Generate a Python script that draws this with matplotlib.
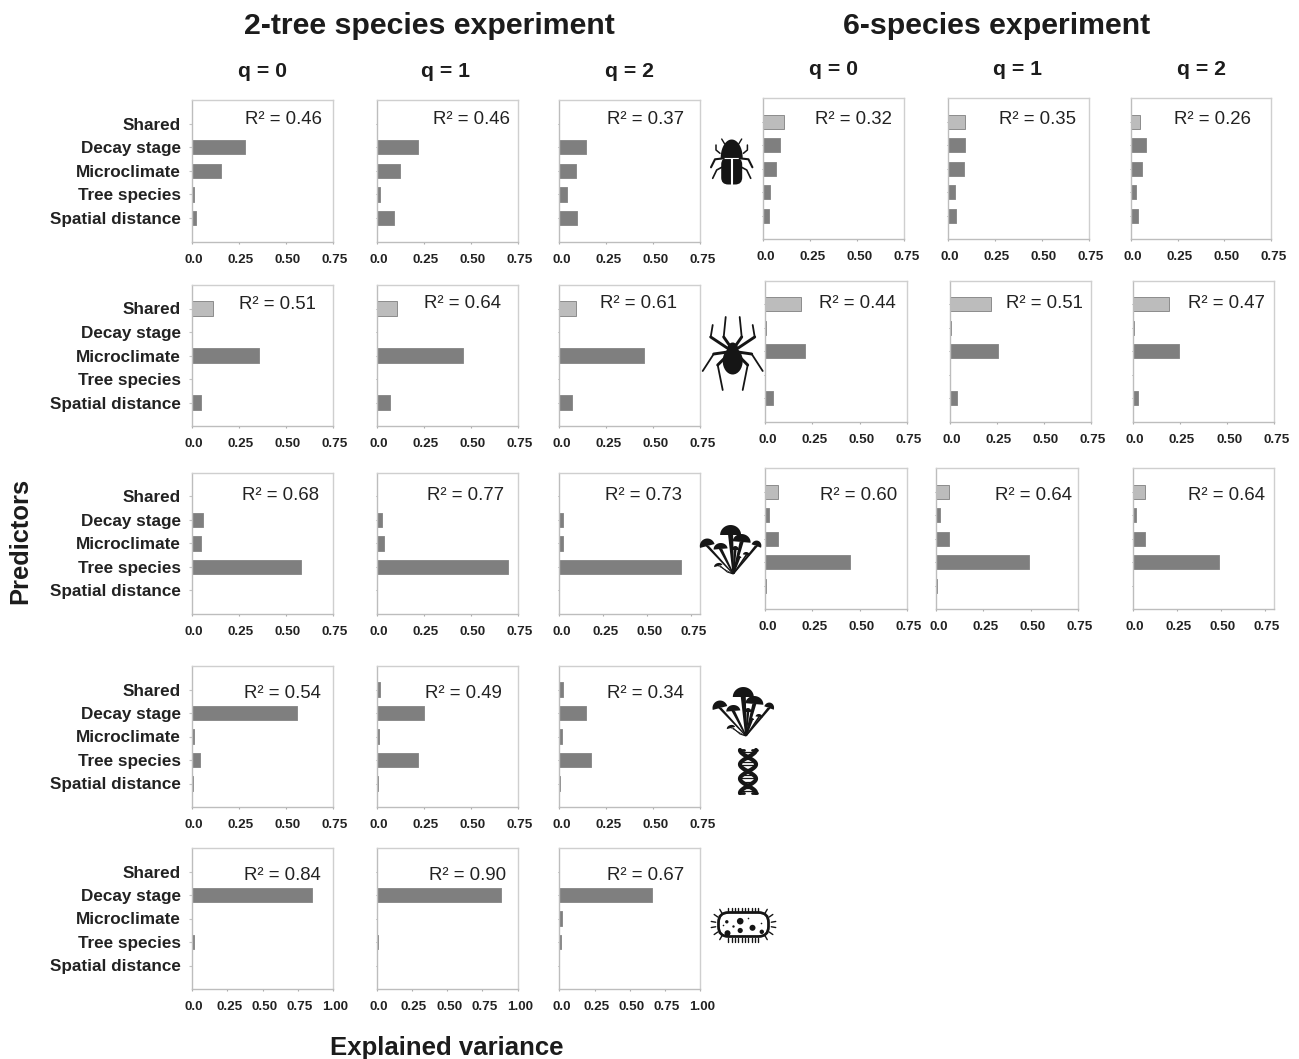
import numpy as np
import matplotlib
matplotlib.use("Agg")
import matplotlib.pyplot as plt
from matplotlib.patches import Ellipse, Polygon, FancyBboxPatch, Circle
from matplotlib.transforms import ScaledTranslation

plt.rcParams['font.family'] = ['Liberation Sans', 'DejaVu Sans']

W, H = 1299, 1059

predictors = ['Shared', 'Decay stage', 'Microclimate', 'Tree species', 'Spatial distance']
q_labels = ['q = 0', 'q = 1', 'q = 2']

# explained variance, one list per q, same order as predictors
tree2_row1 = [[0, .28, .155, .012, .02], [0, .22, .125, .018, .095], [0, .14, .09, .04, .095]]
tree2_row2 = [[.11, 0, .355, 0, .05], [.11, 0, .46, 0, .07], [.09, 0, .45, 0, .07]]
tree2_row3 = [[0, .06, .05, .58, 0], [0, .03, .04, .70, 0], [0, .02, .02, .69, 0]]
tree2_row4 = [[0, .56, .012, .04, .003], [.02, .25, .012, .22, .008], [.02, .14, .012, .17, .005]]
tree2_row5 = [[0, .85, 0, .012, 0], [0, .88, 0, .01, 0], [0, .66, .022, .012, 0]]

six_row1 = [[.11, .09, .07, .035, .028], [.09, .09, .085, .035, .04], [.05, .08, .06, .03, .04]]
six_row2 = [[.19, .006, .21, .001, .04], [.22, .003, .255, .001, .035], [.19, .005, .245, .004, .03]]
six_row3 = [[.07, .02, .07, .45, .005], [.07, .02, .07, .49, .005], [.07, .02, .07, .49, .004]]

tree2_r2 = [['0.46', '0.46', '0.37'], ['0.51', '0.64', '0.61'], ['0.68', '0.77', '0.73'],
            ['0.54', '0.49', '0.34'], ['0.84', '0.90', '0.67']]
six_r2 = [['0.32', '0.35', '0.26'], ['0.44', '0.51', '0.47'], ['0.60', '0.64', '0.64']]

fig = plt.figure(figsize=(W / 100, H / 100), dpi=100)

# full size overlay in pixels, for headings and icons
ov = fig.add_axes([0, 0, 1, 1], zorder=5)
ov.set_xlim(0, W)
ov.set_ylim(H, 0)
ov.axis('off')
ov.patch.set_alpha(0)


def panel(x0, x1, y0, y1, vals, r2, r2_x, r2_y, xmax=.75, ticks=(0, .25, .5, .75),
          labels=False, shared_col='#bcbcbc'):
    ax = fig.add_axes([x0 / W, 1 - y1 / H, (x1 - x0) / W, (y1 - y0) / H])
    pos = np.arange(1, 6)
    v = np.array(vals)
    keep = v > 0
    cols = [shared_col if i == 0 else '#7f7f7f' for i in range(5)]
    edges = ['#8c8c8c' for i in range(5)]
    ax.barh(pos[keep], v[keep], height=.6, color=np.array(cols)[keep],
            edgecolor=np.array(edges)[keep], linewidth=.7)
    ax.set_xlim(0, xmax)
    ax.set_ylim(6, 0)
    ax.set_yticks(pos)
    ax.set_xticks(ticks)
    ax.set_xticklabels(['0.0'] + ['%.2f' % t for t in ticks[1:]], fontsize=9.7,
                       fontweight='bold', color='#222222')
    if labels:
        ax.set_yticklabels(predictors, fontsize=12.3, fontweight='bold', color='#222222')
        ax.tick_params(axis='y', length=2, pad=5.8, color='#c4c4c4', width=.8)
    else:
        ax.set_yticklabels([])
        ax.tick_params(axis='y', length=1, color='#999999', width=.7)
    ax.tick_params(axis='x', length=1.5, pad=7.2, color='#aaaaaa', width=.8)
    # tick labels sit 2 px right of their ticks, has to come after tick_params
    off = ScaledTranslation(.02, 0, fig.dpi_scale_trans)
    for t in ax.get_xticklabels():
        t.set_transform(t.get_transform() + off)
    for s in ax.spines.values():
        s.set_color('#cfcfcf')
        s.set_linewidth(1)
    ax.spines['left'].set_color('#bdbdbd')
    ax.spines['bottom'].set_color('#bdbdbd')
    ov.text(r2_x, r2_y + 2, 'R² = ' + r2, ha='right', va='center', fontsize=13.4, color='#222222')
    return ax


# panel boxes in pixels
cols_left = [(192, 333), (376.5, 517.7), (559.3, 700.3)]
rows_left = [(100, 241.7), (285, 426), (473, 614), (666, 807), (848, 989)]
data_left = [tree2_row1, tree2_row2, tree2_row3, tree2_row4, tree2_row5]
r2_pos_left = [[(321.7, 118), (510, 118), (684, 118)],
               [(316, 302.5), (501, 302), (677, 302)],
               [(318.7, 494), (504, 494), (682, 494)],
               [(320.7, 691.5), (501.7, 691), (684, 691)],
               [(320.7, 873), (506, 873), (684, 873)]]

for r in range(5):
    for c in range(3):
        xmax, ticks = .75, (0, .25, .5, .75)
        if r == 4:
            xmax, ticks = 1.0, (0, .25, .5, .75, 1.0)
        if r == 2 and c == 2:
            xmax = .8
        panel(cols_left[c][0], cols_left[c][1], rows_left[r][0], rows_left[r][1],
              data_left[r][c], tree2_r2[r][c], r2_pos_left[r][c][0], r2_pos_left[r][c][1],
              xmax, ticks, labels=(c == 0), shared_col='#7f7f7f' if r == 3 else '#bcbcbc')

boxes_right = [[(763.3, 904.3), (948, 1089), (1130.7, 1271.3)],
               [(765.3, 906.7), (950, 1091), (1132.7, 1274.3)],
               [(765.3, 906.7), (936.3, 1077.7), (1132.7, 1274)]]
rows_right = [(98.3, 239.3), (281, 421.7), (468.3, 609.3)]
data_right = [six_row1, six_row2, six_row3]
r2_pos_right = [[(892, 118), (1075.7, 118), (1251, 118)],
                [(895.7, 302), (1083, 302), (1265, 302)],
                [(897.7, 494), (1072, 494), (1265.3, 494)]]

for r in range(3):
    for c in range(3):
        xmax = .8 if (r == 2 and c == 2) else .75
        panel(boxes_right[r][c][0], boxes_right[r][c][1], rows_right[r][0], rows_right[r][1],
              data_right[r][c], six_r2[r][c], r2_pos_right[r][c][0], r2_pos_right[r][c][1], xmax)

# headings
dark = '#1c1c1c'
ov.text(429, 25.5, '2-tree species experiment', ha='center', va='center', fontsize=21.8,
        fontweight='bold', color=dark)
ov.text(997, 25.5, '6-species experiment', ha='center', va='center', fontsize=21.8,
        fontweight='bold', color=dark)
for x, s in zip([262.5, 446, 629.5], q_labels):
    ov.text(x, 71.5, s, ha='center', va='center', fontsize=15.3, fontweight='bold', color=dark)
for x, s in zip([833.5, 1018, 1201.5], q_labels):
    ov.text(x, 69.5, s, ha='center', va='center', fontsize=15.3, fontweight='bold', color=dark)
ov.text(447, 1048, 'Explained variance', ha='center', va='center', fontsize=18.5,
        fontweight='bold', color=dark)
ov.text(20, 541, 'Predictors', ha='center', va='center', rotation=90, fontsize=18.4,
        fontweight='bold', color=dark)


# icons -----------------
ink = '#151515'


def line(xs, ys, lw=1.5, color=ink):
    ov.plot(xs, ys, color=color, lw=lw, solid_capstyle='round', solid_joinstyle='round')


def beetle(cx, cy):
    # pronotum and head
    t = np.linspace(np.pi, 2 * np.pi, 30)
    ov.add_patch(Polygon(np.c_[cx + 11 * np.cos(t), cy - 6 + 18.5 * np.sin(t)], color=ink, lw=0))
    # wing cases
    ov.add_patch(FancyBboxPatch((cx - 9, cy - 5), 18, 24, boxstyle='round,pad=1.5,rounding_size=7',
                                color=ink, lw=0))
    line([cx - 11, cx + 11], [cy - 5.7, cy - 5.7], .8, 'white')
    line([cx, cx], [cy - 5, cy + 21], 1.5, 'white')
    for sg in (-1, 1):
        line([cx + sg * 8, cx + sg * 16.7, cx + sg * 20.7], [cy - 5.7, cy - 4.7, cy + 3.3], 1.5)
        line([cx + sg * 10, cx + sg * 15, cx + sg * 19], [cy + 3.3, cy + 6, cy + 14.3], 1.2)
        line([cx + sg * 11.7, cx + sg * 15.7, cx + sg * 15.7], [cy - 10.7, cy - 14, cy - 19], 1.1)
        line([cx + sg * 7, cx + sg * 10], [cy - 20, cy - 25], 1)


def spider(cx, cy):
    ov.add_patch(Ellipse((cx, cy + 4), 20, 27, color=ink, lw=0))
    ov.add_patch(Ellipse((cx, cy - 8), 11, 13, color=ink, lw=0))
    legs = [[(2, -10), (9, -20), (7, -40)], [(4, -8), (22, -20), (20, -32)],
            [(5, -5), (19, -3), (30, 14)], [(5, -2), (15, 8), (10, 33)]]
    for pts in legs:
        for sg in (-1, 1):
            xs = [cx + sg * p[0] for p in pts]
            ys = [cy + p[1] for p in pts]
            line(xs[:2], ys[:2], 2.1)
            line(xs[1:], ys[1:], 1.3)


def cap(x, y, w, h, ang):
    t = np.linspace(0, np.pi, 24)
    px, py = w / 2 * np.cos(t), -h * np.sin(t)
    a = np.radians(ang)
    ov.add_patch(Polygon(np.c_[x + px * np.cos(a) - py * np.sin(a), y + px * np.sin(a) + py * np.cos(a)],
                         color=ink, lw=0))


def mushrooms(bx, by):
    # offsets from the foot of the bunch: cap x, cap y, width, height, angle, stem width
    caps = [(-2.7, -39, 21, 10, 0, 5), (8.3, -32, 18, 8, 5, 4), (-26, -28, 15, 7.5, -15, 3.5),
            (-12.7, -25, 14, 6, -5, 3.5), (23, -28, 10, 5.5, 20, 3.5), (-15, -8, 8.5, 3, -15, 1),
            (13, -19, 7, 3, 10, 2), (2, -24, 7, 4, 0, 2.5), (6, -16, 4, 2, 0, 2)]
    for dx, dy, w, h, ang, sw in caps:
        cap(bx + dx, by + dy, w, h, ang)
        # stems narrow towards the foot but keep some width there
        ov.add_patch(Polygon([(bx - .8, by), (bx + dx - sw / 2, by + dy),
                              (bx + dx + sw / 2, by + dy), (bx + .8, by)], color=ink, lw=0))
    line([bx - 13, bx - 6, bx], [by - 8, by - 2, by], .8)


def dna(cx, y0, y1):
    y = np.linspace(y0, y1, 80)
    ph = (y - y0) / (y1 - y0) * 2 * np.pi * 1.5
    line(cx + 8 * np.cos(ph), y, 3)
    line(cx - 8 * np.cos(ph), y, 3)
    line([cx - 9, cx - 4], [y0, y0], 2)
    line([cx + 4, cx + 9], [y0, y0], 2)
    line([cx - 9, cx - 4], [y1, y1], 2)
    line([cx + 4, cx + 9], [y1, y1], 2)
    for yy in y[4::6]:
        p = (yy - y0) / (y1 - y0) * 2 * np.pi * 1.5
        line([cx - 8 * np.cos(p), cx + 8 * np.cos(p)], [yy, yy], .9)


def bacterium(cx, cy):
    ov.add_patch(FancyBboxPatch((cx - 15, cy - 2), 30, 4, boxstyle='round,pad=10,rounding_size=10',
                                fc='white', ec=ink, lw=2))
    # hairs along the sides, then round the two ends
    for dx in np.arange(-15, 15.5, 3.3):
        line([cx + dx, cx + dx], [cy - 13, cy - 17], 1)
        line([cx + dx, cx + dx], [cy + 13, cy + 17], 1)
    for a in np.radians([-60, -35, -10, 10, 35, 60]):
        line([cx + 15 + 13 * np.cos(a), cx + 15 + 17.5 * np.cos(a)],
             [cy + 13 * np.sin(a), cy + 17.5 * np.sin(a)], 1)
        line([cx - 15 - 13 * np.cos(a), cx - 15 - 17.5 * np.cos(a)],
             [cy + 13 * np.sin(a), cy + 17.5 * np.sin(a)], 1)
    dots = [(-16.7, -2.7, 1.7), (-3.3, -3.3, 3.3), (9, 3.3, 3), (-3.3, 6, 2.6), (-16, 8.7, 3),
            (18.3, 7.3, 2.2), (-10, 2, 1.2), (18, -1, .8), (5, -6, .8), (-20, 1, .8)]
    for dx, dy, rad in dots:
        ov.add_patch(Circle((cx + dx, cy + dy), rad, color=ink, lw=0))


beetle(731.7, 164)
spider(732.7, 357)
mushrooms(733.3, 574)
mushrooms(746, 736)
dna(748, 750, 793)
bacterium(743.5, 924.5)

fig.savefig('out.png', dpi=100)
